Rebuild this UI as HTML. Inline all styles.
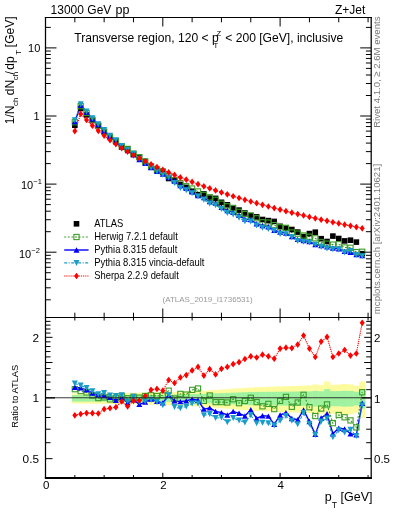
<!DOCTYPE html>
<html><head><meta charset="utf-8"><style>
svg{will-change:transform}
html,body{margin:0;padding:0;background:#fff;width:393px;height:512px;overflow:hidden;position:relative}
</style></head><body>
<svg width="393" height="512" viewBox="0 0 393 512" style="position:absolute;left:0;top:0">
<rect x="0" y="0" width="393" height="512" fill="#fff"/>
<defs><clipPath id="cm"><rect x="45.5" y="17.5" width="325.7" height="300.0"/></clipPath><clipPath id="cr"><rect x="45.5" y="317.5" width="325.7" height="160.5"/></clipPath></defs>
<g fill="#fdfb9e" clip-path="url(#cr)"><rect x="71.89" y="393.40" width="6.16" height="10.12"/><rect x="77.76" y="393.34" width="6.17" height="10.25"/><rect x="83.62" y="393.28" width="6.16" height="10.38"/><rect x="89.49" y="393.22" width="6.17" height="10.52"/><rect x="95.35" y="393.16" width="6.17" height="10.65"/><rect x="101.22" y="393.10" width="6.17" height="10.78"/><rect x="107.08" y="393.04" width="6.16" height="10.91"/><rect x="112.95" y="392.98" width="6.17" height="11.04"/><rect x="118.81" y="392.92" width="6.17" height="11.18"/><rect x="124.68" y="392.86" width="6.16" height="11.31"/><rect x="130.54" y="392.80" width="6.17" height="11.44"/><rect x="136.41" y="392.67" width="6.17" height="11.73"/><rect x="142.27" y="392.53" width="6.17" height="12.03"/><rect x="148.14" y="392.40" width="6.17" height="12.32"/><rect x="154.00" y="392.27" width="6.17" height="12.61"/><rect x="159.87" y="392.13" width="6.16" height="12.91"/><rect x="165.73" y="392.00" width="6.16" height="13.20"/><rect x="171.60" y="391.78" width="6.16" height="13.68"/><rect x="177.46" y="391.57" width="6.16" height="14.15"/><rect x="183.33" y="391.35" width="6.16" height="14.63"/><rect x="189.19" y="391.13" width="6.16" height="15.11"/><rect x="195.06" y="390.92" width="6.16" height="15.58"/><rect x="200.92" y="390.70" width="6.16" height="16.06"/><rect x="206.79" y="390.30" width="6.16" height="16.94"/><rect x="212.65" y="389.90" width="6.16" height="17.82"/><rect x="218.52" y="389.50" width="6.16" height="18.70"/><rect x="224.38" y="389.10" width="6.16" height="19.58"/><rect x="230.25" y="388.70" width="6.16" height="20.46"/><rect x="236.11" y="388.32" width="6.16" height="21.29"/><rect x="241.98" y="387.95" width="6.16" height="22.11"/><rect x="247.84" y="387.57" width="6.16" height="22.94"/><rect x="253.71" y="387.20" width="6.16" height="23.76"/><rect x="259.57" y="387.00" width="6.17" height="24.20"/><rect x="265.44" y="386.80" width="6.17" height="24.64"/><rect x="271.30" y="386.60" width="6.17" height="25.08"/><rect x="277.17" y="386.40" width="6.16" height="25.52"/><rect x="283.03" y="386.20" width="6.16" height="25.96"/><rect x="288.90" y="386.00" width="6.16" height="26.40"/><rect x="294.76" y="385.80" width="6.17" height="26.84"/><rect x="300.63" y="385.60" width="6.16" height="27.28"/><rect x="306.49" y="385.40" width="6.16" height="27.72"/><rect x="312.36" y="384.44" width="6.17" height="29.83"/><rect x="318.22" y="385.08" width="6.16" height="28.42"/><rect x="324.09" y="381.42" width="6.17" height="36.48"/><rect x="329.95" y="384.76" width="6.16" height="29.13"/><rect x="335.82" y="384.60" width="6.17" height="29.48"/><rect x="341.68" y="384.05" width="6.16" height="30.69"/><rect x="347.55" y="384.30" width="6.16" height="30.14"/><rect x="353.41" y="385.65" width="6.17" height="27.17"/><rect x="359.28" y="381.50" width="6.16" height="36.30"/></g>
<g fill="#a0f2a0" clip-path="url(#cr)"><rect x="71.89" y="395.00" width="6.16" height="6.60"/><rect x="77.76" y="395.00" width="6.17" height="6.60"/><rect x="83.62" y="395.00" width="6.16" height="6.60"/><rect x="89.49" y="395.00" width="6.17" height="6.60"/><rect x="95.35" y="395.00" width="6.17" height="6.60"/><rect x="101.22" y="395.00" width="6.17" height="6.60"/><rect x="107.08" y="395.00" width="6.16" height="6.60"/><rect x="112.95" y="395.00" width="6.17" height="6.60"/><rect x="118.81" y="395.00" width="6.17" height="6.60"/><rect x="124.68" y="395.00" width="6.16" height="6.60"/><rect x="130.54" y="395.00" width="6.17" height="6.60"/><rect x="136.41" y="394.97" width="6.17" height="6.67"/><rect x="142.27" y="394.93" width="6.17" height="6.75"/><rect x="148.14" y="394.90" width="6.17" height="6.82"/><rect x="154.00" y="394.87" width="6.17" height="6.89"/><rect x="159.87" y="394.83" width="6.16" height="6.97"/><rect x="165.73" y="394.80" width="6.16" height="7.04"/><rect x="171.60" y="394.63" width="6.16" height="7.41"/><rect x="177.46" y="394.47" width="6.16" height="7.77"/><rect x="183.33" y="394.30" width="6.16" height="8.14"/><rect x="189.19" y="394.13" width="6.16" height="8.51"/><rect x="195.06" y="393.97" width="6.16" height="8.87"/><rect x="200.92" y="393.80" width="6.16" height="9.24"/><rect x="206.79" y="393.57" width="6.16" height="9.74"/><rect x="212.65" y="393.35" width="6.16" height="10.23"/><rect x="218.52" y="393.12" width="6.16" height="10.73"/><rect x="224.38" y="392.90" width="6.16" height="11.22"/><rect x="230.25" y="392.68" width="6.16" height="11.72"/><rect x="236.11" y="392.45" width="6.16" height="12.21"/><rect x="241.98" y="392.23" width="6.16" height="12.71"/><rect x="247.84" y="392.00" width="6.16" height="13.20"/><rect x="253.71" y="391.94" width="6.16" height="13.33"/><rect x="259.57" y="391.88" width="6.17" height="13.46"/><rect x="265.44" y="391.82" width="6.17" height="13.60"/><rect x="271.30" y="391.76" width="6.17" height="13.73"/><rect x="277.17" y="391.70" width="6.16" height="13.86"/><rect x="283.03" y="391.64" width="6.16" height="13.99"/><rect x="288.90" y="391.58" width="6.16" height="14.12"/><rect x="294.76" y="391.52" width="6.17" height="14.26"/><rect x="300.63" y="391.46" width="6.16" height="14.39"/><rect x="306.49" y="391.40" width="6.16" height="14.52"/><rect x="312.36" y="390.86" width="6.17" height="15.71"/><rect x="318.22" y="391.28" width="6.16" height="14.78"/><rect x="324.09" y="389.12" width="6.17" height="19.54"/><rect x="329.95" y="391.16" width="6.16" height="15.05"/><rect x="335.82" y="391.10" width="6.17" height="15.18"/><rect x="341.68" y="390.76" width="6.16" height="15.93"/><rect x="347.55" y="390.90" width="6.16" height="15.62"/><rect x="353.41" y="391.70" width="6.17" height="13.86"/><rect x="359.28" y="389.20" width="6.16" height="19.36"/></g>
<g clip-path="url(#cm)">
<polyline points="74.83,122.23 80.69,106.17 86.56,113.01 92.42,119.66 98.28,125.63 104.15,131.60 110.02,137.07 115.88,141.00 121.75,146.22 127.61,148.90 133.47,153.69 139.34,157.16 145.21,161.32 151.07,166.19 156.94,169.52 162.80,171.39 168.67,176.03 174.53,180.17 180.39,183.01 186.26,186.25 192.12,188.56 197.99,191.49 203.86,194.88 209.72,197.26 215.59,199.79 221.45,203.69 227.31,206.32 233.18,208.11 239.05,211.86 244.91,213.98 250.78,215.53 256.64,218.29 262.50,222.31 268.37,222.59 274.24,225.15 280.10,227.28 285.96,227.83 291.83,232.47 297.70,233.62 303.56,235.52 309.43,236.71 315.29,238.32 321.16,242.28 327.02,243.66 332.88,244.62 338.75,244.25 344.62,247.42 350.48,247.77 356.35,252.04 362.21,251.74" fill="none" stroke="#3c9c28" stroke-width="1.1" stroke-dasharray="2,1.6"/>
<polyline points="74.83,121.58 80.69,105.09 86.56,112.13 92.42,118.81 98.28,124.55 104.15,130.96 110.02,136.40 115.88,141.74 121.75,146.76 127.61,150.46 133.47,154.71 139.34,159.46 145.21,163.39 151.07,167.47 156.94,171.35 162.80,173.96 168.67,177.59 174.53,180.98 180.39,185.62 186.26,188.38 192.12,191.71 197.99,195.44 203.86,197.65 209.72,201.45 215.59,202.93 221.45,207.23 227.31,210.55 233.18,212.23 239.05,215.27 244.91,219.08 250.78,219.59 256.64,223.83 262.50,225.48 268.37,226.72 274.24,230.29 280.10,232.05 285.96,233.13 291.83,236.43 297.70,239.40 303.56,240.66 309.43,241.54 315.29,244.50 321.16,245.46 327.02,246.84 332.88,248.17 338.75,248.74 344.62,251.38 350.48,252.27 356.35,254.57 362.21,255.46" fill="none" stroke="#0000ff" stroke-width="1.4"/>
<polyline points="74.83,120.30 80.69,104.24 86.56,111.49 92.42,118.24 98.28,124.35 104.15,130.11 110.02,135.76 115.88,140.32 121.75,145.99 127.61,149.95 133.47,153.69 139.34,158.69 145.21,163.15 151.07,167.71 156.94,171.59 162.80,174.73 168.67,177.59 174.53,183.08 180.39,187.88 186.26,190.24 192.12,193.19 197.99,196.59 203.86,199.75 209.72,203.54 215.59,205.19 221.45,208.92 227.31,213.01 233.18,214.49 239.05,217.67 244.91,221.28 250.78,221.45 256.64,225.42 262.50,227.85 268.37,229.12 274.24,230.69 280.10,234.01 285.96,234.32 291.83,237.21 297.70,240.99 303.56,241.67 309.43,242.39 315.29,244.67 321.16,246.64 327.02,248.43 332.88,249.35 338.75,249.38 344.62,252.56 350.48,250.91 356.35,254.94 362.21,256.27" fill="none" stroke="#1a9cc8" stroke-width="1.1" stroke-dasharray="3,1.5,1,1.5"/>
<polyline points="74.83,131.05 80.69,113.91 86.56,120.00 92.42,125.64 98.28,130.84 104.15,135.59 110.02,140.05 115.88,144.11 121.75,148.05 127.61,151.61 133.47,155.05 139.34,158.18 145.21,161.32 151.07,164.33 156.94,167.12 162.80,169.83 168.67,172.42 174.53,174.93 180.39,177.44 186.26,179.66 192.12,181.97 197.99,184.19 203.86,186.33 209.72,188.37 215.59,190.42 221.45,192.43 227.31,194.29 233.18,196.24 239.05,198.00 244.91,199.82 250.78,201.51 256.64,203.21 262.50,204.87 268.37,206.51 274.24,208.12 280.10,209.60 285.96,211.20 291.83,212.64 297.70,214.05 303.56,215.48 309.43,216.90 315.29,218.34 321.16,219.64 327.02,220.85 332.88,222.24 338.75,223.46 344.62,224.68 350.48,225.87 356.35,227.06 362.21,228.29" fill="none" stroke="#ff0000" stroke-width="1.1" stroke-dasharray="1.2,0.9"/>
<rect x="72.03" y="122.40" width="5.60" height="5.60" fill="#000"/>
<rect x="77.89" y="105.70" width="5.60" height="5.60" fill="#000"/>
<rect x="83.76" y="112.10" width="5.60" height="5.60" fill="#000"/>
<rect x="89.62" y="117.70" width="5.60" height="5.60" fill="#000"/>
<rect x="95.48" y="122.80" width="5.60" height="5.60" fill="#000"/>
<rect x="101.35" y="129.00" width="5.60" height="5.60" fill="#000"/>
<rect x="107.22" y="133.80" width="5.60" height="5.60" fill="#000"/>
<rect x="113.08" y="138.20" width="5.60" height="5.60" fill="#000"/>
<rect x="118.95" y="144.10" width="5.60" height="5.60" fill="#000"/>
<rect x="124.81" y="146.00" width="5.60" height="5.60" fill="#000"/>
<rect x="130.67" y="151.30" width="5.60" height="5.60" fill="#000"/>
<rect x="136.54" y="154.50" width="5.60" height="5.60" fill="#000"/>
<rect x="142.41" y="159.20" width="5.60" height="5.60" fill="#000"/>
<rect x="148.27" y="164.30" width="5.60" height="5.60" fill="#000"/>
<rect x="154.13" y="167.40" width="5.60" height="5.60" fill="#000"/>
<rect x="160.00" y="169.50" width="5.60" height="5.60" fill="#000"/>
<rect x="165.87" y="175.70" width="5.60" height="5.60" fill="#000"/>
<rect x="171.73" y="177.20" width="5.60" height="5.60" fill="#000"/>
<rect x="177.59" y="181.60" width="5.60" height="5.60" fill="#000"/>
<rect x="183.46" y="184.60" width="5.60" height="5.60" fill="#000"/>
<rect x="189.32" y="188.50" width="5.60" height="5.60" fill="#000"/>
<rect x="195.19" y="191.90" width="5.60" height="5.60" fill="#000"/>
<rect x="201.06" y="191.10" width="5.60" height="5.60" fill="#000"/>
<rect x="206.92" y="195.30" width="5.60" height="5.60" fill="#000"/>
<rect x="212.78" y="195.60" width="5.60" height="5.60" fill="#000"/>
<rect x="218.65" y="199.50" width="5.60" height="5.60" fill="#000"/>
<rect x="224.51" y="202.00" width="5.60" height="5.60" fill="#000"/>
<rect x="230.38" y="204.90" width="5.60" height="5.60" fill="#000"/>
<rect x="236.25" y="207.30" width="5.60" height="5.60" fill="#000"/>
<rect x="242.11" y="210.20" width="5.60" height="5.60" fill="#000"/>
<rect x="247.97" y="212.80" width="5.60" height="5.60" fill="#000"/>
<rect x="253.84" y="214.10" width="5.60" height="5.60" fill="#000"/>
<rect x="259.70" y="216.70" width="5.60" height="5.60" fill="#000"/>
<rect x="265.57" y="217.80" width="5.60" height="5.60" fill="#000"/>
<rect x="271.44" y="218.60" width="5.60" height="5.60" fill="#000"/>
<rect x="277.30" y="223.50" width="5.60" height="5.60" fill="#000"/>
<rect x="283.16" y="225.40" width="5.60" height="5.60" fill="#000"/>
<rect x="289.03" y="226.70" width="5.60" height="5.60" fill="#000"/>
<rect x="294.90" y="229.30" width="5.60" height="5.60" fill="#000"/>
<rect x="300.76" y="233.80" width="5.60" height="5.60" fill="#000"/>
<rect x="306.62" y="230.80" width="5.60" height="5.60" fill="#000"/>
<rect x="312.49" y="229.40" width="5.60" height="5.60" fill="#000"/>
<rect x="318.36" y="235.90" width="5.60" height="5.60" fill="#000"/>
<rect x="324.22" y="238.70" width="5.60" height="5.60" fill="#000"/>
<rect x="330.08" y="233.30" width="5.60" height="5.60" fill="#000"/>
<rect x="335.95" y="235.70" width="5.60" height="5.60" fill="#000"/>
<rect x="341.81" y="238.10" width="5.60" height="5.60" fill="#000"/>
<rect x="347.68" y="237.40" width="5.60" height="5.60" fill="#000"/>
<rect x="353.55" y="239.30" width="5.60" height="5.60" fill="#000"/>
<rect x="359.41" y="250.90" width="5.60" height="5.60" fill="#000"/>
<rect x="72.23" y="119.63" width="5.20" height="5.20" fill="none" stroke="#3c9c28" stroke-width="1.1"/>
<rect x="78.09" y="103.57" width="5.20" height="5.20" fill="none" stroke="#3c9c28" stroke-width="1.1"/>
<rect x="83.96" y="110.41" width="5.20" height="5.20" fill="none" stroke="#3c9c28" stroke-width="1.1"/>
<rect x="89.82" y="117.06" width="5.20" height="5.20" fill="none" stroke="#3c9c28" stroke-width="1.1"/>
<rect x="95.69" y="123.03" width="5.20" height="5.20" fill="none" stroke="#3c9c28" stroke-width="1.1"/>
<rect x="101.55" y="129.00" width="5.20" height="5.20" fill="none" stroke="#3c9c28" stroke-width="1.1"/>
<rect x="107.42" y="134.47" width="5.20" height="5.20" fill="none" stroke="#3c9c28" stroke-width="1.1"/>
<rect x="113.28" y="138.40" width="5.20" height="5.20" fill="none" stroke="#3c9c28" stroke-width="1.1"/>
<rect x="119.15" y="143.62" width="5.20" height="5.20" fill="none" stroke="#3c9c28" stroke-width="1.1"/>
<rect x="125.01" y="146.30" width="5.20" height="5.20" fill="none" stroke="#3c9c28" stroke-width="1.1"/>
<rect x="130.88" y="151.09" width="5.20" height="5.20" fill="none" stroke="#3c9c28" stroke-width="1.1"/>
<rect x="136.74" y="154.56" width="5.20" height="5.20" fill="none" stroke="#3c9c28" stroke-width="1.1"/>
<rect x="142.61" y="158.72" width="5.20" height="5.20" fill="none" stroke="#3c9c28" stroke-width="1.1"/>
<rect x="148.47" y="163.59" width="5.20" height="5.20" fill="none" stroke="#3c9c28" stroke-width="1.1"/>
<rect x="154.34" y="166.92" width="5.20" height="5.20" fill="none" stroke="#3c9c28" stroke-width="1.1"/>
<rect x="160.20" y="168.79" width="5.20" height="5.20" fill="none" stroke="#3c9c28" stroke-width="1.1"/>
<rect x="166.07" y="173.43" width="5.20" height="5.20" fill="none" stroke="#3c9c28" stroke-width="1.1"/>
<rect x="171.93" y="177.57" width="5.20" height="5.20" fill="none" stroke="#3c9c28" stroke-width="1.1"/>
<rect x="177.79" y="180.41" width="5.20" height="5.20" fill="none" stroke="#3c9c28" stroke-width="1.1"/>
<rect x="183.66" y="183.65" width="5.20" height="5.20" fill="none" stroke="#3c9c28" stroke-width="1.1"/>
<rect x="189.53" y="185.96" width="5.20" height="5.20" fill="none" stroke="#3c9c28" stroke-width="1.1"/>
<rect x="195.39" y="188.89" width="5.20" height="5.20" fill="none" stroke="#3c9c28" stroke-width="1.1"/>
<rect x="201.26" y="192.28" width="5.20" height="5.20" fill="none" stroke="#3c9c28" stroke-width="1.1"/>
<rect x="207.12" y="194.66" width="5.20" height="5.20" fill="none" stroke="#3c9c28" stroke-width="1.1"/>
<rect x="212.99" y="197.19" width="5.20" height="5.20" fill="none" stroke="#3c9c28" stroke-width="1.1"/>
<rect x="218.85" y="201.09" width="5.20" height="5.20" fill="none" stroke="#3c9c28" stroke-width="1.1"/>
<rect x="224.72" y="203.72" width="5.20" height="5.20" fill="none" stroke="#3c9c28" stroke-width="1.1"/>
<rect x="230.58" y="205.51" width="5.20" height="5.20" fill="none" stroke="#3c9c28" stroke-width="1.1"/>
<rect x="236.45" y="209.26" width="5.20" height="5.20" fill="none" stroke="#3c9c28" stroke-width="1.1"/>
<rect x="242.31" y="211.38" width="5.20" height="5.20" fill="none" stroke="#3c9c28" stroke-width="1.1"/>
<rect x="248.18" y="212.93" width="5.20" height="5.20" fill="none" stroke="#3c9c28" stroke-width="1.1"/>
<rect x="254.04" y="215.69" width="5.20" height="5.20" fill="none" stroke="#3c9c28" stroke-width="1.1"/>
<rect x="259.90" y="219.71" width="5.20" height="5.20" fill="none" stroke="#3c9c28" stroke-width="1.1"/>
<rect x="265.77" y="219.99" width="5.20" height="5.20" fill="none" stroke="#3c9c28" stroke-width="1.1"/>
<rect x="271.63" y="222.55" width="5.20" height="5.20" fill="none" stroke="#3c9c28" stroke-width="1.1"/>
<rect x="277.50" y="224.68" width="5.20" height="5.20" fill="none" stroke="#3c9c28" stroke-width="1.1"/>
<rect x="283.36" y="225.23" width="5.20" height="5.20" fill="none" stroke="#3c9c28" stroke-width="1.1"/>
<rect x="289.23" y="229.87" width="5.20" height="5.20" fill="none" stroke="#3c9c28" stroke-width="1.1"/>
<rect x="295.10" y="231.02" width="5.20" height="5.20" fill="none" stroke="#3c9c28" stroke-width="1.1"/>
<rect x="300.96" y="232.92" width="5.20" height="5.20" fill="none" stroke="#3c9c28" stroke-width="1.1"/>
<rect x="306.82" y="234.11" width="5.20" height="5.20" fill="none" stroke="#3c9c28" stroke-width="1.1"/>
<rect x="312.69" y="235.72" width="5.20" height="5.20" fill="none" stroke="#3c9c28" stroke-width="1.1"/>
<rect x="318.56" y="239.68" width="5.20" height="5.20" fill="none" stroke="#3c9c28" stroke-width="1.1"/>
<rect x="324.42" y="241.06" width="5.20" height="5.20" fill="none" stroke="#3c9c28" stroke-width="1.1"/>
<rect x="330.28" y="242.02" width="5.20" height="5.20" fill="none" stroke="#3c9c28" stroke-width="1.1"/>
<rect x="336.15" y="241.65" width="5.20" height="5.20" fill="none" stroke="#3c9c28" stroke-width="1.1"/>
<rect x="342.01" y="244.82" width="5.20" height="5.20" fill="none" stroke="#3c9c28" stroke-width="1.1"/>
<rect x="347.88" y="245.17" width="5.20" height="5.20" fill="none" stroke="#3c9c28" stroke-width="1.1"/>
<rect x="353.75" y="249.44" width="5.20" height="5.20" fill="none" stroke="#3c9c28" stroke-width="1.1"/>
<rect x="359.61" y="249.14" width="5.20" height="5.20" fill="none" stroke="#3c9c28" stroke-width="1.1"/>
<path d="M71.83,124.28L77.83,124.28L74.83,118.88Z" fill="#0000ff"/>
<path d="M77.69,107.79L83.69,107.79L80.69,102.39Z" fill="#0000ff"/>
<path d="M83.56,114.83L89.56,114.83L86.56,109.43Z" fill="#0000ff"/>
<path d="M89.42,121.51L95.42,121.51L92.42,116.11Z" fill="#0000ff"/>
<path d="M95.28,127.25L101.28,127.25L98.28,121.85Z" fill="#0000ff"/>
<path d="M101.15,133.66L107.15,133.66L104.15,128.26Z" fill="#0000ff"/>
<path d="M107.02,139.10L113.02,139.10L110.02,133.70Z" fill="#0000ff"/>
<path d="M112.88,144.44L118.88,144.44L115.88,139.04Z" fill="#0000ff"/>
<path d="M118.75,149.46L124.75,149.46L121.75,144.06Z" fill="#0000ff"/>
<path d="M124.61,153.16L130.61,153.16L127.61,147.76Z" fill="#0000ff"/>
<path d="M130.47,157.41L136.47,157.41L133.47,152.01Z" fill="#0000ff"/>
<path d="M136.34,162.16L142.34,162.16L139.34,156.76Z" fill="#0000ff"/>
<path d="M142.21,166.09L148.21,166.09L145.21,160.69Z" fill="#0000ff"/>
<path d="M148.07,170.17L154.07,170.17L151.07,164.77Z" fill="#0000ff"/>
<path d="M153.94,174.05L159.94,174.05L156.94,168.65Z" fill="#0000ff"/>
<path d="M159.80,176.66L165.80,176.66L162.80,171.26Z" fill="#0000ff"/>
<path d="M165.67,180.29L171.67,180.29L168.67,174.89Z" fill="#0000ff"/>
<path d="M171.53,183.68L177.53,183.68L174.53,178.28Z" fill="#0000ff"/>
<path d="M177.39,188.32L183.39,188.32L180.39,182.92Z" fill="#0000ff"/>
<path d="M183.26,191.08L189.26,191.08L186.26,185.68Z" fill="#0000ff"/>
<path d="M189.12,194.41L195.12,194.41L192.12,189.01Z" fill="#0000ff"/>
<path d="M194.99,198.14L200.99,198.14L197.99,192.74Z" fill="#0000ff"/>
<path d="M200.86,200.35L206.86,200.35L203.86,194.95Z" fill="#0000ff"/>
<path d="M206.72,204.15L212.72,204.15L209.72,198.75Z" fill="#0000ff"/>
<path d="M212.59,205.63L218.59,205.63L215.59,200.23Z" fill="#0000ff"/>
<path d="M218.45,209.93L224.45,209.93L221.45,204.53Z" fill="#0000ff"/>
<path d="M224.31,213.25L230.31,213.25L227.31,207.85Z" fill="#0000ff"/>
<path d="M230.18,214.93L236.18,214.93L233.18,209.53Z" fill="#0000ff"/>
<path d="M236.05,217.97L242.05,217.97L239.05,212.57Z" fill="#0000ff"/>
<path d="M241.91,221.78L247.91,221.78L244.91,216.38Z" fill="#0000ff"/>
<path d="M247.78,222.29L253.78,222.29L250.78,216.89Z" fill="#0000ff"/>
<path d="M253.64,226.53L259.64,226.53L256.64,221.13Z" fill="#0000ff"/>
<path d="M259.50,228.18L265.50,228.18L262.50,222.78Z" fill="#0000ff"/>
<path d="M265.37,229.42L271.37,229.42L268.37,224.02Z" fill="#0000ff"/>
<path d="M271.24,232.99L277.24,232.99L274.24,227.59Z" fill="#0000ff"/>
<path d="M277.10,234.75L283.10,234.75L280.10,229.35Z" fill="#0000ff"/>
<path d="M282.96,235.83L288.96,235.83L285.96,230.43Z" fill="#0000ff"/>
<path d="M288.83,239.13L294.83,239.13L291.83,233.73Z" fill="#0000ff"/>
<path d="M294.70,242.10L300.70,242.10L297.70,236.70Z" fill="#0000ff"/>
<path d="M300.56,243.36L306.56,243.36L303.56,237.96Z" fill="#0000ff"/>
<path d="M306.43,244.24L312.43,244.24L309.43,238.84Z" fill="#0000ff"/>
<path d="M312.29,247.20L318.29,247.20L315.29,241.80Z" fill="#0000ff"/>
<path d="M318.16,248.16L324.16,248.16L321.16,242.76Z" fill="#0000ff"/>
<path d="M324.02,249.54L330.02,249.54L327.02,244.14Z" fill="#0000ff"/>
<path d="M329.88,250.87L335.88,250.87L332.88,245.47Z" fill="#0000ff"/>
<path d="M335.75,251.44L341.75,251.44L338.75,246.04Z" fill="#0000ff"/>
<path d="M341.62,254.08L347.62,254.08L344.62,248.68Z" fill="#0000ff"/>
<path d="M347.48,254.97L353.48,254.97L350.48,249.57Z" fill="#0000ff"/>
<path d="M353.35,257.27L359.35,257.27L356.35,251.87Z" fill="#0000ff"/>
<path d="M359.21,258.16L365.21,258.16L362.21,252.76Z" fill="#0000ff"/>
<path d="M71.83,117.30L77.83,117.30L74.83,123.30Z" fill="#1a9cc8"/>
<path d="M77.69,101.24L83.69,101.24L80.69,107.24Z" fill="#1a9cc8"/>
<path d="M83.56,108.49L89.56,108.49L86.56,114.49Z" fill="#1a9cc8"/>
<path d="M89.42,115.24L95.42,115.24L92.42,121.24Z" fill="#1a9cc8"/>
<path d="M95.28,121.35L101.28,121.35L98.28,127.35Z" fill="#1a9cc8"/>
<path d="M101.15,127.11L107.15,127.11L104.15,133.11Z" fill="#1a9cc8"/>
<path d="M107.02,132.76L113.02,132.76L110.02,138.76Z" fill="#1a9cc8"/>
<path d="M112.88,137.32L118.88,137.32L115.88,143.32Z" fill="#1a9cc8"/>
<path d="M118.75,142.99L124.75,142.99L121.75,148.99Z" fill="#1a9cc8"/>
<path d="M124.61,146.95L130.61,146.95L127.61,152.95Z" fill="#1a9cc8"/>
<path d="M130.47,150.69L136.47,150.69L133.47,156.69Z" fill="#1a9cc8"/>
<path d="M136.34,155.69L142.34,155.69L139.34,161.69Z" fill="#1a9cc8"/>
<path d="M142.21,160.15L148.21,160.15L145.21,166.15Z" fill="#1a9cc8"/>
<path d="M148.07,164.71L154.07,164.71L151.07,170.71Z" fill="#1a9cc8"/>
<path d="M153.94,168.59L159.94,168.59L156.94,174.59Z" fill="#1a9cc8"/>
<path d="M159.80,171.73L165.80,171.73L162.80,177.73Z" fill="#1a9cc8"/>
<path d="M165.67,174.59L171.67,174.59L168.67,180.59Z" fill="#1a9cc8"/>
<path d="M171.53,180.08L177.53,180.08L174.53,186.08Z" fill="#1a9cc8"/>
<path d="M177.39,184.88L183.39,184.88L180.39,190.88Z" fill="#1a9cc8"/>
<path d="M183.26,187.24L189.26,187.24L186.26,193.24Z" fill="#1a9cc8"/>
<path d="M189.12,190.19L195.12,190.19L192.12,196.19Z" fill="#1a9cc8"/>
<path d="M194.99,193.59L200.99,193.59L197.99,199.59Z" fill="#1a9cc8"/>
<path d="M200.86,196.75L206.86,196.75L203.86,202.75Z" fill="#1a9cc8"/>
<path d="M206.72,200.54L212.72,200.54L209.72,206.54Z" fill="#1a9cc8"/>
<path d="M212.59,202.19L218.59,202.19L215.59,208.19Z" fill="#1a9cc8"/>
<path d="M218.45,205.92L224.45,205.92L221.45,211.92Z" fill="#1a9cc8"/>
<path d="M224.31,210.01L230.31,210.01L227.31,216.01Z" fill="#1a9cc8"/>
<path d="M230.18,211.49L236.18,211.49L233.18,217.49Z" fill="#1a9cc8"/>
<path d="M236.05,214.67L242.05,214.67L239.05,220.67Z" fill="#1a9cc8"/>
<path d="M241.91,218.28L247.91,218.28L244.91,224.28Z" fill="#1a9cc8"/>
<path d="M247.78,218.45L253.78,218.45L250.78,224.45Z" fill="#1a9cc8"/>
<path d="M253.64,222.42L259.64,222.42L256.64,228.42Z" fill="#1a9cc8"/>
<path d="M259.50,224.85L265.50,224.85L262.50,230.85Z" fill="#1a9cc8"/>
<path d="M265.37,226.12L271.37,226.12L268.37,232.12Z" fill="#1a9cc8"/>
<path d="M271.24,227.69L277.24,227.69L274.24,233.69Z" fill="#1a9cc8"/>
<path d="M277.10,231.01L283.10,231.01L280.10,237.01Z" fill="#1a9cc8"/>
<path d="M282.96,231.32L288.96,231.32L285.96,237.32Z" fill="#1a9cc8"/>
<path d="M288.83,234.21L294.83,234.21L291.83,240.21Z" fill="#1a9cc8"/>
<path d="M294.70,237.99L300.70,237.99L297.70,243.99Z" fill="#1a9cc8"/>
<path d="M300.56,238.67L306.56,238.67L303.56,244.67Z" fill="#1a9cc8"/>
<path d="M306.43,239.39L312.43,239.39L309.43,245.39Z" fill="#1a9cc8"/>
<path d="M312.29,241.67L318.29,241.67L315.29,247.67Z" fill="#1a9cc8"/>
<path d="M318.16,243.64L324.16,243.64L321.16,249.64Z" fill="#1a9cc8"/>
<path d="M324.02,245.43L330.02,245.43L327.02,251.43Z" fill="#1a9cc8"/>
<path d="M329.88,246.35L335.88,246.35L332.88,252.35Z" fill="#1a9cc8"/>
<path d="M335.75,246.38L341.75,246.38L338.75,252.38Z" fill="#1a9cc8"/>
<path d="M341.62,249.56L347.62,249.56L344.62,255.56Z" fill="#1a9cc8"/>
<path d="M347.48,247.91L353.48,247.91L350.48,253.91Z" fill="#1a9cc8"/>
<path d="M353.35,251.94L359.35,251.94L356.35,257.94Z" fill="#1a9cc8"/>
<path d="M359.21,253.27L365.21,253.27L362.21,259.27Z" fill="#1a9cc8"/>
<path d="M74.83,127.69L77.34,131.05L74.83,134.41L72.31,131.05Z" fill="#ff0000"/>
<path d="M80.69,110.55L83.21,113.91L80.69,117.27L78.17,113.91Z" fill="#ff0000"/>
<path d="M86.56,116.64L89.08,120.00L86.56,123.36L84.04,120.00Z" fill="#ff0000"/>
<path d="M92.42,122.28L94.94,125.64L92.42,129.00L89.90,125.64Z" fill="#ff0000"/>
<path d="M98.28,127.48L100.80,130.84L98.28,134.20L95.77,130.84Z" fill="#ff0000"/>
<path d="M104.15,132.23L106.67,135.59L104.15,138.95L101.63,135.59Z" fill="#ff0000"/>
<path d="M110.02,136.69L112.53,140.05L110.02,143.41L107.50,140.05Z" fill="#ff0000"/>
<path d="M115.88,140.75L118.40,144.11L115.88,147.47L113.36,144.11Z" fill="#ff0000"/>
<path d="M121.75,144.69L124.27,148.05L121.75,151.41L119.23,148.05Z" fill="#ff0000"/>
<path d="M127.61,148.25L130.13,151.61L127.61,154.97L125.09,151.61Z" fill="#ff0000"/>
<path d="M133.47,151.69L136.00,155.05L133.47,158.41L130.95,155.05Z" fill="#ff0000"/>
<path d="M139.34,154.82L141.86,158.18L139.34,161.54L136.82,158.18Z" fill="#ff0000"/>
<path d="M145.21,157.96L147.73,161.32L145.21,164.68L142.69,161.32Z" fill="#ff0000"/>
<path d="M151.07,160.97L153.59,164.33L151.07,167.69L148.55,164.33Z" fill="#ff0000"/>
<path d="M156.94,163.76L159.46,167.12L156.94,170.48L154.41,167.12Z" fill="#ff0000"/>
<path d="M162.80,166.47L165.32,169.83L162.80,173.19L160.28,169.83Z" fill="#ff0000"/>
<path d="M168.67,169.06L171.19,172.42L168.67,175.78L166.15,172.42Z" fill="#ff0000"/>
<path d="M174.53,171.57L177.05,174.93L174.53,178.29L172.01,174.93Z" fill="#ff0000"/>
<path d="M180.39,174.08L182.91,177.44L180.39,180.80L177.87,177.44Z" fill="#ff0000"/>
<path d="M186.26,176.30L188.78,179.66L186.26,183.02L183.74,179.66Z" fill="#ff0000"/>
<path d="M192.12,178.61L194.65,181.97L192.12,185.33L189.60,181.97Z" fill="#ff0000"/>
<path d="M197.99,180.83L200.51,184.19L197.99,187.55L195.47,184.19Z" fill="#ff0000"/>
<path d="M203.86,182.97L206.38,186.33L203.86,189.69L201.34,186.33Z" fill="#ff0000"/>
<path d="M209.72,185.01L212.24,188.37L209.72,191.73L207.20,188.37Z" fill="#ff0000"/>
<path d="M215.59,187.06L218.11,190.42L215.59,193.78L213.06,190.42Z" fill="#ff0000"/>
<path d="M221.45,189.07L223.97,192.43L221.45,195.79L218.93,192.43Z" fill="#ff0000"/>
<path d="M227.31,190.93L229.84,194.29L227.31,197.65L224.79,194.29Z" fill="#ff0000"/>
<path d="M233.18,192.88L235.70,196.24L233.18,199.60L230.66,196.24Z" fill="#ff0000"/>
<path d="M239.05,194.64L241.57,198.00L239.05,201.36L236.53,198.00Z" fill="#ff0000"/>
<path d="M244.91,196.46L247.43,199.82L244.91,203.18L242.39,199.82Z" fill="#ff0000"/>
<path d="M250.78,198.15L253.30,201.51L250.78,204.87L248.25,201.51Z" fill="#ff0000"/>
<path d="M256.64,199.85L259.16,203.21L256.64,206.57L254.12,203.21Z" fill="#ff0000"/>
<path d="M262.50,201.51L265.02,204.87L262.50,208.23L259.99,204.87Z" fill="#ff0000"/>
<path d="M268.37,203.15L270.89,206.51L268.37,209.87L265.85,206.51Z" fill="#ff0000"/>
<path d="M274.24,204.76L276.75,208.12L274.24,211.48L271.72,208.12Z" fill="#ff0000"/>
<path d="M280.10,206.24L282.62,209.60L280.10,212.96L277.58,209.60Z" fill="#ff0000"/>
<path d="M285.96,207.84L288.48,211.20L285.96,214.56L283.44,211.20Z" fill="#ff0000"/>
<path d="M291.83,209.28L294.35,212.64L291.83,216.00L289.31,212.64Z" fill="#ff0000"/>
<path d="M297.70,210.69L300.22,214.05L297.70,217.41L295.18,214.05Z" fill="#ff0000"/>
<path d="M303.56,212.12L306.08,215.48L303.56,218.84L301.04,215.48Z" fill="#ff0000"/>
<path d="M309.43,213.54L311.94,216.90L309.43,220.26L306.91,216.90Z" fill="#ff0000"/>
<path d="M315.29,214.98L317.81,218.34L315.29,221.70L312.77,218.34Z" fill="#ff0000"/>
<path d="M321.16,216.28L323.68,219.64L321.16,223.00L318.64,219.64Z" fill="#ff0000"/>
<path d="M327.02,217.49L329.54,220.85L327.02,224.21L324.50,220.85Z" fill="#ff0000"/>
<path d="M332.88,218.88L335.40,222.24L332.88,225.60L330.37,222.24Z" fill="#ff0000"/>
<path d="M338.75,220.10L341.27,223.46L338.75,226.82L336.23,223.46Z" fill="#ff0000"/>
<path d="M344.62,221.32L347.13,224.68L344.62,228.04L342.10,224.68Z" fill="#ff0000"/>
<path d="M350.48,222.51L353.00,225.87L350.48,229.23L347.96,225.87Z" fill="#ff0000"/>
<path d="M356.35,223.70L358.87,227.06L356.35,230.42L353.83,227.06Z" fill="#ff0000"/>
<path d="M362.21,224.93L364.73,228.29L362.21,231.65L359.69,228.29Z" fill="#ff0000"/>
</g>
<g clip-path="url(#cr)">
<polyline points="74.83,389.20 80.69,391.10 86.56,392.40 92.42,395.50 98.28,398.10 104.15,397.40 110.02,399.40 115.88,398.00 121.75,396.00 127.61,398.30 133.47,396.80 139.34,397.60 145.21,396.00 151.07,395.30 156.94,396.00 162.80,395.30 168.67,390.70 174.53,398.50 180.39,393.90 186.26,394.60 192.12,389.90 197.99,388.50 203.86,400.90 209.72,395.50 215.59,402.10 221.45,402.10 227.31,402.50 233.18,399.20 239.05,403.20 244.91,400.90 250.78,397.80 256.64,402.10 262.50,406.30 268.37,403.90 274.24,409.10 280.10,400.90 285.96,396.90 291.83,406.80 297.70,402.50 303.56,394.80 309.43,407.20 315.29,416.10 321.16,408.60 327.02,404.40 332.88,423.20 338.75,415.00 344.62,417.30 350.48,420.40 356.35,427.40 362.21,392.20" fill="none" stroke="#3c9c28" stroke-width="1.1" stroke-dasharray="2,1.6"/>
<polyline points="74.83,387.30 80.69,387.90 86.56,389.80 92.42,393.00 98.28,394.90 104.15,395.50 110.02,397.40 115.88,400.20 121.75,397.60 127.61,402.90 133.47,399.80 139.34,404.40 145.21,402.10 151.07,399.10 156.94,401.40 162.80,402.90 168.67,395.30 174.53,400.90 180.39,401.60 186.26,400.90 192.12,399.20 197.99,400.20 203.86,409.10 209.72,407.90 215.59,411.40 221.45,412.60 227.31,415.00 233.18,411.40 239.05,413.30 244.91,416.00 250.78,409.80 256.64,418.50 262.50,415.70 268.37,416.10 274.24,424.30 280.10,415.00 285.96,412.60 291.83,418.50 297.70,419.60 303.56,410.00 309.43,421.50 315.29,434.40 321.16,418.00 327.02,413.80 332.88,433.70 338.75,428.30 344.62,429.00 350.48,433.70 356.35,434.90 362.21,403.20" fill="none" stroke="#0000ff" stroke-width="1.4"/>
<polyline points="74.83,383.50 80.69,385.40 86.56,387.90 92.42,391.30 98.28,394.30 104.15,393.00 110.02,395.50 115.88,396.00 121.75,395.30 127.61,401.40 133.47,396.80 139.34,402.10 145.21,401.40 151.07,399.80 156.94,402.10 162.80,405.20 168.67,395.30 174.53,407.10 180.39,408.30 186.26,406.40 192.12,403.60 197.99,403.60 203.86,415.30 209.72,414.10 215.59,418.10 221.45,417.60 227.31,422.30 233.18,418.10 239.05,420.40 244.91,422.50 250.78,415.30 256.64,423.20 262.50,422.70 268.37,423.20 274.24,425.50 280.10,420.80 285.96,416.10 291.83,420.80 297.70,424.30 303.56,413.00 309.43,424.00 315.29,434.90 321.16,421.50 327.02,418.50 332.88,437.20 338.75,430.20 344.62,432.50 350.48,429.70 356.35,436.00 362.21,405.60" fill="none" stroke="#1a9cc8" stroke-width="1.1" stroke-dasharray="3,1.5,1,1.5"/>
<polyline points="74.83,415.30 80.69,414.00 86.56,413.10 92.42,413.20 98.28,413.50 104.15,409.20 110.02,408.20 115.88,407.20 121.75,401.40 127.61,406.30 133.47,400.80 139.34,400.60 145.21,396.00 151.07,389.80 156.94,388.90 162.80,390.70 168.67,380.00 174.53,383.00 180.39,377.40 186.26,375.10 192.12,370.40 197.99,366.90 203.86,375.60 209.72,369.20 215.59,374.40 221.45,368.80 227.31,366.90 233.18,364.10 239.05,362.20 244.91,359.00 250.78,356.30 256.64,357.50 262.50,354.70 268.37,356.30 274.24,358.70 280.10,348.60 285.96,347.70 291.83,348.10 297.70,344.60 303.56,335.50 309.43,348.60 315.29,357.00 321.16,341.60 327.02,336.90 332.88,357.00 338.75,353.50 344.62,350.00 350.48,355.60 356.35,353.50 362.21,322.80" fill="none" stroke="#ff0000" stroke-width="1.1" stroke-dasharray="1.2,0.9"/>
<rect x="72.23" y="386.60" width="5.20" height="5.20" fill="none" stroke="#3c9c28" stroke-width="1.1"/>
<rect x="78.09" y="388.50" width="5.20" height="5.20" fill="none" stroke="#3c9c28" stroke-width="1.1"/>
<rect x="83.96" y="389.80" width="5.20" height="5.20" fill="none" stroke="#3c9c28" stroke-width="1.1"/>
<rect x="89.82" y="392.90" width="5.20" height="5.20" fill="none" stroke="#3c9c28" stroke-width="1.1"/>
<rect x="95.69" y="395.50" width="5.20" height="5.20" fill="none" stroke="#3c9c28" stroke-width="1.1"/>
<rect x="101.55" y="394.80" width="5.20" height="5.20" fill="none" stroke="#3c9c28" stroke-width="1.1"/>
<rect x="107.42" y="396.80" width="5.20" height="5.20" fill="none" stroke="#3c9c28" stroke-width="1.1"/>
<rect x="113.28" y="395.40" width="5.20" height="5.20" fill="none" stroke="#3c9c28" stroke-width="1.1"/>
<rect x="119.15" y="393.40" width="5.20" height="5.20" fill="none" stroke="#3c9c28" stroke-width="1.1"/>
<rect x="125.01" y="395.70" width="5.20" height="5.20" fill="none" stroke="#3c9c28" stroke-width="1.1"/>
<rect x="130.88" y="394.20" width="5.20" height="5.20" fill="none" stroke="#3c9c28" stroke-width="1.1"/>
<rect x="136.74" y="395.00" width="5.20" height="5.20" fill="none" stroke="#3c9c28" stroke-width="1.1"/>
<rect x="142.61" y="393.40" width="5.20" height="5.20" fill="none" stroke="#3c9c28" stroke-width="1.1"/>
<rect x="148.47" y="392.70" width="5.20" height="5.20" fill="none" stroke="#3c9c28" stroke-width="1.1"/>
<rect x="154.34" y="393.40" width="5.20" height="5.20" fill="none" stroke="#3c9c28" stroke-width="1.1"/>
<rect x="160.20" y="392.70" width="5.20" height="5.20" fill="none" stroke="#3c9c28" stroke-width="1.1"/>
<rect x="166.07" y="388.10" width="5.20" height="5.20" fill="none" stroke="#3c9c28" stroke-width="1.1"/>
<rect x="171.93" y="395.90" width="5.20" height="5.20" fill="none" stroke="#3c9c28" stroke-width="1.1"/>
<rect x="177.79" y="391.30" width="5.20" height="5.20" fill="none" stroke="#3c9c28" stroke-width="1.1"/>
<rect x="183.66" y="392.00" width="5.20" height="5.20" fill="none" stroke="#3c9c28" stroke-width="1.1"/>
<rect x="189.53" y="387.30" width="5.20" height="5.20" fill="none" stroke="#3c9c28" stroke-width="1.1"/>
<rect x="195.39" y="385.90" width="5.20" height="5.20" fill="none" stroke="#3c9c28" stroke-width="1.1"/>
<rect x="201.26" y="398.30" width="5.20" height="5.20" fill="none" stroke="#3c9c28" stroke-width="1.1"/>
<rect x="207.12" y="392.90" width="5.20" height="5.20" fill="none" stroke="#3c9c28" stroke-width="1.1"/>
<rect x="212.99" y="399.50" width="5.20" height="5.20" fill="none" stroke="#3c9c28" stroke-width="1.1"/>
<rect x="218.85" y="399.50" width="5.20" height="5.20" fill="none" stroke="#3c9c28" stroke-width="1.1"/>
<rect x="224.72" y="399.90" width="5.20" height="5.20" fill="none" stroke="#3c9c28" stroke-width="1.1"/>
<rect x="230.58" y="396.60" width="5.20" height="5.20" fill="none" stroke="#3c9c28" stroke-width="1.1"/>
<rect x="236.45" y="400.60" width="5.20" height="5.20" fill="none" stroke="#3c9c28" stroke-width="1.1"/>
<rect x="242.31" y="398.30" width="5.20" height="5.20" fill="none" stroke="#3c9c28" stroke-width="1.1"/>
<rect x="248.18" y="395.20" width="5.20" height="5.20" fill="none" stroke="#3c9c28" stroke-width="1.1"/>
<rect x="254.04" y="399.50" width="5.20" height="5.20" fill="none" stroke="#3c9c28" stroke-width="1.1"/>
<rect x="259.90" y="403.70" width="5.20" height="5.20" fill="none" stroke="#3c9c28" stroke-width="1.1"/>
<rect x="265.77" y="401.30" width="5.20" height="5.20" fill="none" stroke="#3c9c28" stroke-width="1.1"/>
<rect x="271.63" y="406.50" width="5.20" height="5.20" fill="none" stroke="#3c9c28" stroke-width="1.1"/>
<rect x="277.50" y="398.30" width="5.20" height="5.20" fill="none" stroke="#3c9c28" stroke-width="1.1"/>
<rect x="283.36" y="394.30" width="5.20" height="5.20" fill="none" stroke="#3c9c28" stroke-width="1.1"/>
<rect x="289.23" y="404.20" width="5.20" height="5.20" fill="none" stroke="#3c9c28" stroke-width="1.1"/>
<rect x="295.10" y="399.90" width="5.20" height="5.20" fill="none" stroke="#3c9c28" stroke-width="1.1"/>
<rect x="300.96" y="392.20" width="5.20" height="5.20" fill="none" stroke="#3c9c28" stroke-width="1.1"/>
<rect x="306.82" y="404.60" width="5.20" height="5.20" fill="none" stroke="#3c9c28" stroke-width="1.1"/>
<rect x="312.69" y="413.50" width="5.20" height="5.20" fill="none" stroke="#3c9c28" stroke-width="1.1"/>
<rect x="318.56" y="406.00" width="5.20" height="5.20" fill="none" stroke="#3c9c28" stroke-width="1.1"/>
<rect x="324.42" y="401.80" width="5.20" height="5.20" fill="none" stroke="#3c9c28" stroke-width="1.1"/>
<rect x="330.28" y="420.60" width="5.20" height="5.20" fill="none" stroke="#3c9c28" stroke-width="1.1"/>
<rect x="336.15" y="412.40" width="5.20" height="5.20" fill="none" stroke="#3c9c28" stroke-width="1.1"/>
<rect x="342.01" y="414.70" width="5.20" height="5.20" fill="none" stroke="#3c9c28" stroke-width="1.1"/>
<rect x="347.88" y="417.80" width="5.20" height="5.20" fill="none" stroke="#3c9c28" stroke-width="1.1"/>
<rect x="353.75" y="424.80" width="5.20" height="5.20" fill="none" stroke="#3c9c28" stroke-width="1.1"/>
<rect x="359.61" y="389.60" width="5.20" height="5.20" fill="none" stroke="#3c9c28" stroke-width="1.1"/>
<path d="M71.83,390.00L77.83,390.00L74.83,384.60Z" fill="#0000ff"/>
<path d="M77.69,390.60L83.69,390.60L80.69,385.20Z" fill="#0000ff"/>
<path d="M83.56,392.50L89.56,392.50L86.56,387.10Z" fill="#0000ff"/>
<path d="M89.42,395.70L95.42,395.70L92.42,390.30Z" fill="#0000ff"/>
<path d="M95.28,397.60L101.28,397.60L98.28,392.20Z" fill="#0000ff"/>
<path d="M101.15,398.20L107.15,398.20L104.15,392.80Z" fill="#0000ff"/>
<path d="M107.02,400.10L113.02,400.10L110.02,394.70Z" fill="#0000ff"/>
<path d="M112.88,402.90L118.88,402.90L115.88,397.50Z" fill="#0000ff"/>
<path d="M118.75,400.30L124.75,400.30L121.75,394.90Z" fill="#0000ff"/>
<path d="M124.61,405.60L130.61,405.60L127.61,400.20Z" fill="#0000ff"/>
<path d="M130.47,402.50L136.47,402.50L133.47,397.10Z" fill="#0000ff"/>
<path d="M136.34,407.10L142.34,407.10L139.34,401.70Z" fill="#0000ff"/>
<path d="M142.21,404.80L148.21,404.80L145.21,399.40Z" fill="#0000ff"/>
<path d="M148.07,401.80L154.07,401.80L151.07,396.40Z" fill="#0000ff"/>
<path d="M153.94,404.10L159.94,404.10L156.94,398.70Z" fill="#0000ff"/>
<path d="M159.80,405.60L165.80,405.60L162.80,400.20Z" fill="#0000ff"/>
<path d="M165.67,398.00L171.67,398.00L168.67,392.60Z" fill="#0000ff"/>
<path d="M171.53,403.60L177.53,403.60L174.53,398.20Z" fill="#0000ff"/>
<path d="M177.39,404.30L183.39,404.30L180.39,398.90Z" fill="#0000ff"/>
<path d="M183.26,403.60L189.26,403.60L186.26,398.20Z" fill="#0000ff"/>
<path d="M189.12,401.90L195.12,401.90L192.12,396.50Z" fill="#0000ff"/>
<path d="M194.99,402.90L200.99,402.90L197.99,397.50Z" fill="#0000ff"/>
<path d="M200.86,411.80L206.86,411.80L203.86,406.40Z" fill="#0000ff"/>
<path d="M206.72,410.60L212.72,410.60L209.72,405.20Z" fill="#0000ff"/>
<path d="M212.59,414.10L218.59,414.10L215.59,408.70Z" fill="#0000ff"/>
<path d="M218.45,415.30L224.45,415.30L221.45,409.90Z" fill="#0000ff"/>
<path d="M224.31,417.70L230.31,417.70L227.31,412.30Z" fill="#0000ff"/>
<path d="M230.18,414.10L236.18,414.10L233.18,408.70Z" fill="#0000ff"/>
<path d="M236.05,416.00L242.05,416.00L239.05,410.60Z" fill="#0000ff"/>
<path d="M241.91,418.70L247.91,418.70L244.91,413.30Z" fill="#0000ff"/>
<path d="M247.78,412.50L253.78,412.50L250.78,407.10Z" fill="#0000ff"/>
<path d="M253.64,421.20L259.64,421.20L256.64,415.80Z" fill="#0000ff"/>
<path d="M259.50,418.40L265.50,418.40L262.50,413.00Z" fill="#0000ff"/>
<path d="M265.37,418.80L271.37,418.80L268.37,413.40Z" fill="#0000ff"/>
<path d="M271.24,427.00L277.24,427.00L274.24,421.60Z" fill="#0000ff"/>
<path d="M277.10,417.70L283.10,417.70L280.10,412.30Z" fill="#0000ff"/>
<path d="M282.96,415.30L288.96,415.30L285.96,409.90Z" fill="#0000ff"/>
<path d="M288.83,421.20L294.83,421.20L291.83,415.80Z" fill="#0000ff"/>
<path d="M294.70,422.30L300.70,422.30L297.70,416.90Z" fill="#0000ff"/>
<path d="M300.56,412.70L306.56,412.70L303.56,407.30Z" fill="#0000ff"/>
<path d="M306.43,424.20L312.43,424.20L309.43,418.80Z" fill="#0000ff"/>
<path d="M312.29,437.10L318.29,437.10L315.29,431.70Z" fill="#0000ff"/>
<path d="M318.16,420.70L324.16,420.70L321.16,415.30Z" fill="#0000ff"/>
<path d="M324.02,416.50L330.02,416.50L327.02,411.10Z" fill="#0000ff"/>
<path d="M329.88,436.40L335.88,436.40L332.88,431.00Z" fill="#0000ff"/>
<path d="M335.75,431.00L341.75,431.00L338.75,425.60Z" fill="#0000ff"/>
<path d="M341.62,431.70L347.62,431.70L344.62,426.30Z" fill="#0000ff"/>
<path d="M347.48,436.40L353.48,436.40L350.48,431.00Z" fill="#0000ff"/>
<path d="M353.35,437.60L359.35,437.60L356.35,432.20Z" fill="#0000ff"/>
<path d="M359.21,405.90L365.21,405.90L362.21,400.50Z" fill="#0000ff"/>
<path d="M71.83,380.50L77.83,380.50L74.83,386.50Z" fill="#1a9cc8"/>
<path d="M77.69,382.40L83.69,382.40L80.69,388.40Z" fill="#1a9cc8"/>
<path d="M83.56,384.90L89.56,384.90L86.56,390.90Z" fill="#1a9cc8"/>
<path d="M89.42,388.30L95.42,388.30L92.42,394.30Z" fill="#1a9cc8"/>
<path d="M95.28,391.30L101.28,391.30L98.28,397.30Z" fill="#1a9cc8"/>
<path d="M101.15,390.00L107.15,390.00L104.15,396.00Z" fill="#1a9cc8"/>
<path d="M107.02,392.50L113.02,392.50L110.02,398.50Z" fill="#1a9cc8"/>
<path d="M112.88,393.00L118.88,393.00L115.88,399.00Z" fill="#1a9cc8"/>
<path d="M118.75,392.30L124.75,392.30L121.75,398.30Z" fill="#1a9cc8"/>
<path d="M124.61,398.40L130.61,398.40L127.61,404.40Z" fill="#1a9cc8"/>
<path d="M130.47,393.80L136.47,393.80L133.47,399.80Z" fill="#1a9cc8"/>
<path d="M136.34,399.10L142.34,399.10L139.34,405.10Z" fill="#1a9cc8"/>
<path d="M142.21,398.40L148.21,398.40L145.21,404.40Z" fill="#1a9cc8"/>
<path d="M148.07,396.80L154.07,396.80L151.07,402.80Z" fill="#1a9cc8"/>
<path d="M153.94,399.10L159.94,399.10L156.94,405.10Z" fill="#1a9cc8"/>
<path d="M159.80,402.20L165.80,402.20L162.80,408.20Z" fill="#1a9cc8"/>
<path d="M165.67,392.30L171.67,392.30L168.67,398.30Z" fill="#1a9cc8"/>
<path d="M171.53,404.10L177.53,404.10L174.53,410.10Z" fill="#1a9cc8"/>
<path d="M177.39,405.30L183.39,405.30L180.39,411.30Z" fill="#1a9cc8"/>
<path d="M183.26,403.40L189.26,403.40L186.26,409.40Z" fill="#1a9cc8"/>
<path d="M189.12,400.60L195.12,400.60L192.12,406.60Z" fill="#1a9cc8"/>
<path d="M194.99,400.60L200.99,400.60L197.99,406.60Z" fill="#1a9cc8"/>
<path d="M200.86,412.30L206.86,412.30L203.86,418.30Z" fill="#1a9cc8"/>
<path d="M206.72,411.10L212.72,411.10L209.72,417.10Z" fill="#1a9cc8"/>
<path d="M212.59,415.10L218.59,415.10L215.59,421.10Z" fill="#1a9cc8"/>
<path d="M218.45,414.60L224.45,414.60L221.45,420.60Z" fill="#1a9cc8"/>
<path d="M224.31,419.30L230.31,419.30L227.31,425.30Z" fill="#1a9cc8"/>
<path d="M230.18,415.10L236.18,415.10L233.18,421.10Z" fill="#1a9cc8"/>
<path d="M236.05,417.40L242.05,417.40L239.05,423.40Z" fill="#1a9cc8"/>
<path d="M241.91,419.50L247.91,419.50L244.91,425.50Z" fill="#1a9cc8"/>
<path d="M247.78,412.30L253.78,412.30L250.78,418.30Z" fill="#1a9cc8"/>
<path d="M253.64,420.20L259.64,420.20L256.64,426.20Z" fill="#1a9cc8"/>
<path d="M259.50,419.70L265.50,419.70L262.50,425.70Z" fill="#1a9cc8"/>
<path d="M265.37,420.20L271.37,420.20L268.37,426.20Z" fill="#1a9cc8"/>
<path d="M271.24,422.50L277.24,422.50L274.24,428.50Z" fill="#1a9cc8"/>
<path d="M277.10,417.80L283.10,417.80L280.10,423.80Z" fill="#1a9cc8"/>
<path d="M282.96,413.10L288.96,413.10L285.96,419.10Z" fill="#1a9cc8"/>
<path d="M288.83,417.80L294.83,417.80L291.83,423.80Z" fill="#1a9cc8"/>
<path d="M294.70,421.30L300.70,421.30L297.70,427.30Z" fill="#1a9cc8"/>
<path d="M300.56,410.00L306.56,410.00L303.56,416.00Z" fill="#1a9cc8"/>
<path d="M306.43,421.00L312.43,421.00L309.43,427.00Z" fill="#1a9cc8"/>
<path d="M312.29,431.90L318.29,431.90L315.29,437.90Z" fill="#1a9cc8"/>
<path d="M318.16,418.50L324.16,418.50L321.16,424.50Z" fill="#1a9cc8"/>
<path d="M324.02,415.50L330.02,415.50L327.02,421.50Z" fill="#1a9cc8"/>
<path d="M329.88,434.20L335.88,434.20L332.88,440.20Z" fill="#1a9cc8"/>
<path d="M335.75,427.20L341.75,427.20L338.75,433.20Z" fill="#1a9cc8"/>
<path d="M341.62,429.50L347.62,429.50L344.62,435.50Z" fill="#1a9cc8"/>
<path d="M347.48,426.70L353.48,426.70L350.48,432.70Z" fill="#1a9cc8"/>
<path d="M353.35,433.00L359.35,433.00L356.35,439.00Z" fill="#1a9cc8"/>
<path d="M359.21,402.60L365.21,402.60L362.21,408.60Z" fill="#1a9cc8"/>
<path d="M74.83,411.94L77.34,415.30L74.83,418.66L72.31,415.30Z" fill="#ff0000"/>
<path d="M80.69,410.64L83.21,414.00L80.69,417.36L78.17,414.00Z" fill="#ff0000"/>
<path d="M86.56,409.74L89.08,413.10L86.56,416.46L84.04,413.10Z" fill="#ff0000"/>
<path d="M92.42,409.84L94.94,413.20L92.42,416.56L89.90,413.20Z" fill="#ff0000"/>
<path d="M98.28,410.14L100.80,413.50L98.28,416.86L95.77,413.50Z" fill="#ff0000"/>
<path d="M104.15,405.84L106.67,409.20L104.15,412.56L101.63,409.20Z" fill="#ff0000"/>
<path d="M110.02,404.84L112.53,408.20L110.02,411.56L107.50,408.20Z" fill="#ff0000"/>
<path d="M115.88,403.84L118.40,407.20L115.88,410.56L113.36,407.20Z" fill="#ff0000"/>
<path d="M121.75,398.04L124.27,401.40L121.75,404.76L119.23,401.40Z" fill="#ff0000"/>
<path d="M127.61,402.94L130.13,406.30L127.61,409.66L125.09,406.30Z" fill="#ff0000"/>
<path d="M133.47,397.44L136.00,400.80L133.47,404.16L130.95,400.80Z" fill="#ff0000"/>
<path d="M139.34,397.24L141.86,400.60L139.34,403.96L136.82,400.60Z" fill="#ff0000"/>
<path d="M145.21,392.64L147.73,396.00L145.21,399.36L142.69,396.00Z" fill="#ff0000"/>
<path d="M151.07,386.44L153.59,389.80L151.07,393.16L148.55,389.80Z" fill="#ff0000"/>
<path d="M156.94,385.54L159.46,388.90L156.94,392.26L154.41,388.90Z" fill="#ff0000"/>
<path d="M162.80,387.34L165.32,390.70L162.80,394.06L160.28,390.70Z" fill="#ff0000"/>
<path d="M168.67,376.64L171.19,380.00L168.67,383.36L166.15,380.00Z" fill="#ff0000"/>
<path d="M174.53,379.64L177.05,383.00L174.53,386.36L172.01,383.00Z" fill="#ff0000"/>
<path d="M180.39,374.04L182.91,377.40L180.39,380.76L177.87,377.40Z" fill="#ff0000"/>
<path d="M186.26,371.74L188.78,375.10L186.26,378.46L183.74,375.10Z" fill="#ff0000"/>
<path d="M192.12,367.04L194.65,370.40L192.12,373.76L189.60,370.40Z" fill="#ff0000"/>
<path d="M197.99,363.54L200.51,366.90L197.99,370.26L195.47,366.90Z" fill="#ff0000"/>
<path d="M203.86,372.24L206.38,375.60L203.86,378.96L201.34,375.60Z" fill="#ff0000"/>
<path d="M209.72,365.84L212.24,369.20L209.72,372.56L207.20,369.20Z" fill="#ff0000"/>
<path d="M215.59,371.04L218.11,374.40L215.59,377.76L213.06,374.40Z" fill="#ff0000"/>
<path d="M221.45,365.44L223.97,368.80L221.45,372.16L218.93,368.80Z" fill="#ff0000"/>
<path d="M227.31,363.54L229.84,366.90L227.31,370.26L224.79,366.90Z" fill="#ff0000"/>
<path d="M233.18,360.74L235.70,364.10L233.18,367.46L230.66,364.10Z" fill="#ff0000"/>
<path d="M239.05,358.84L241.57,362.20L239.05,365.56L236.53,362.20Z" fill="#ff0000"/>
<path d="M244.91,355.64L247.43,359.00L244.91,362.36L242.39,359.00Z" fill="#ff0000"/>
<path d="M250.78,352.94L253.30,356.30L250.78,359.66L248.25,356.30Z" fill="#ff0000"/>
<path d="M256.64,354.14L259.16,357.50L256.64,360.86L254.12,357.50Z" fill="#ff0000"/>
<path d="M262.50,351.34L265.02,354.70L262.50,358.06L259.99,354.70Z" fill="#ff0000"/>
<path d="M268.37,352.94L270.89,356.30L268.37,359.66L265.85,356.30Z" fill="#ff0000"/>
<path d="M274.24,355.34L276.75,358.70L274.24,362.06L271.72,358.70Z" fill="#ff0000"/>
<path d="M280.10,345.24L282.62,348.60L280.10,351.96L277.58,348.60Z" fill="#ff0000"/>
<path d="M285.96,344.34L288.48,347.70L285.96,351.06L283.44,347.70Z" fill="#ff0000"/>
<path d="M291.83,344.74L294.35,348.10L291.83,351.46L289.31,348.10Z" fill="#ff0000"/>
<path d="M297.70,341.24L300.22,344.60L297.70,347.96L295.18,344.60Z" fill="#ff0000"/>
<path d="M303.56,332.14L306.08,335.50L303.56,338.86L301.04,335.50Z" fill="#ff0000"/>
<path d="M309.43,345.24L311.94,348.60L309.43,351.96L306.91,348.60Z" fill="#ff0000"/>
<path d="M315.29,353.64L317.81,357.00L315.29,360.36L312.77,357.00Z" fill="#ff0000"/>
<path d="M321.16,338.24L323.68,341.60L321.16,344.96L318.64,341.60Z" fill="#ff0000"/>
<path d="M327.02,333.54L329.54,336.90L327.02,340.26L324.50,336.90Z" fill="#ff0000"/>
<path d="M332.88,353.64L335.40,357.00L332.88,360.36L330.37,357.00Z" fill="#ff0000"/>
<path d="M338.75,350.14L341.27,353.50L338.75,356.86L336.23,353.50Z" fill="#ff0000"/>
<path d="M344.62,346.64L347.13,350.00L344.62,353.36L342.10,350.00Z" fill="#ff0000"/>
<path d="M350.48,352.24L353.00,355.60L350.48,358.96L347.96,355.60Z" fill="#ff0000"/>
<path d="M356.35,350.14L358.87,353.50L356.35,356.86L353.83,353.50Z" fill="#ff0000"/>
<path d="M362.21,319.44L364.73,322.80L362.21,326.16L359.69,322.80Z" fill="#ff0000"/>
</g>
<line x1="45.5" y1="397.75" x2="371.2" y2="397.75" stroke="#222" stroke-width="0.9"/>
<path d="M45.5,16.9L45.5,479.0M371.2,16.9L371.2,479.0" stroke="#000" stroke-width="1.25" fill="none"/>
<path d="M44.9,17.5L371.9,17.5M44.9,317.5L371.9,317.5" stroke="#000" stroke-width="1.2" fill="none"/>
<path d="M44.9,478.0L371.9,478.0" stroke="#000" stroke-width="1.9" fill="none"/>
<path d="M74.83,17.50L74.83,22.30M74.83,317.50L74.83,312.70M74.83,317.50L74.83,320.50M74.83,478.00L74.83,475.00M104.15,17.50L104.15,22.30M104.15,317.50L104.15,312.70M104.15,317.50L104.15,320.50M104.15,478.00L104.15,475.00M133.47,17.50L133.47,22.30M133.47,317.50L133.47,312.70M133.47,317.50L133.47,320.50M133.47,478.00L133.47,475.00M162.80,17.50L162.80,26.50M162.80,317.50L162.80,308.50M162.80,317.50L162.80,322.70M162.80,478.00L162.80,472.80M192.12,17.50L192.12,22.30M192.12,317.50L192.12,312.70M192.12,317.50L192.12,320.50M192.12,478.00L192.12,475.00M221.45,17.50L221.45,22.30M221.45,317.50L221.45,312.70M221.45,317.50L221.45,320.50M221.45,478.00L221.45,475.00M250.78,17.50L250.78,22.30M250.78,317.50L250.78,312.70M250.78,317.50L250.78,320.50M250.78,478.00L250.78,475.00M280.10,17.50L280.10,26.50M280.10,317.50L280.10,308.50M280.10,317.50L280.10,322.70M280.10,478.00L280.10,472.80M309.43,17.50L309.43,22.30M309.43,317.50L309.43,312.70M309.43,317.50L309.43,320.50M309.43,478.00L309.43,475.00M338.75,17.50L338.75,22.30M338.75,317.50L338.75,312.70M338.75,317.50L338.75,320.50M338.75,478.00L338.75,475.00M368.07,17.50L368.07,22.30M368.07,317.50L368.07,312.70M368.07,317.50L368.07,320.50M368.07,478.00L368.07,475.00M45.50,299.80L50.80,299.80M371.20,299.80L365.90,299.80M45.50,287.81L50.80,287.81M371.20,287.81L365.90,287.81M45.50,279.30L50.80,279.30M371.20,279.30L365.90,279.30M45.50,272.70L50.80,272.70M371.20,272.70L365.90,272.70M45.50,267.31L50.80,267.31M371.20,267.31L365.90,267.31M45.50,262.75L50.80,262.75M371.20,262.75L365.90,262.75M45.50,258.80L50.80,258.80M371.20,258.80L365.90,258.80M45.50,255.32L50.80,255.32M371.20,255.32L365.90,255.32M45.50,252.20L56.50,252.20M371.20,252.20L360.20,252.20M45.50,231.70L50.80,231.70M371.20,231.70L365.90,231.70M45.50,219.71L50.80,219.71M371.20,219.71L365.90,219.71M45.50,211.20L50.80,211.20M371.20,211.20L365.90,211.20M45.50,204.60L50.80,204.60M371.20,204.60L365.90,204.60M45.50,199.21L50.80,199.21M371.20,199.21L365.90,199.21M45.50,194.65L50.80,194.65M371.20,194.65L365.90,194.65M45.50,190.70L50.80,190.70M371.20,190.70L365.90,190.70M45.50,187.22L50.80,187.22M371.20,187.22L365.90,187.22M45.50,184.10L56.50,184.10M371.20,184.10L360.20,184.10M45.50,163.60L50.80,163.60M371.20,163.60L365.90,163.60M45.50,151.61L50.80,151.61M371.20,151.61L365.90,151.61M45.50,143.10L50.80,143.10M371.20,143.10L365.90,143.10M45.50,136.50L50.80,136.50M371.20,136.50L365.90,136.50M45.50,131.11L50.80,131.11M371.20,131.11L365.90,131.11M45.50,126.55L50.80,126.55M371.20,126.55L365.90,126.55M45.50,122.60L50.80,122.60M371.20,122.60L365.90,122.60M45.50,119.12L50.80,119.12M371.20,119.12L365.90,119.12M45.50,116.00L56.50,116.00M371.20,116.00L360.20,116.00M45.50,95.50L50.80,95.50M371.20,95.50L365.90,95.50M45.50,83.51L50.80,83.51M371.20,83.51L365.90,83.51M45.50,75.00L50.80,75.00M371.20,75.00L365.90,75.00M45.50,68.40L50.80,68.40M371.20,68.40L365.90,68.40M45.50,63.01L50.80,63.01M371.20,63.01L365.90,63.01M45.50,58.45L50.80,58.45M371.20,58.45L365.90,58.45M45.50,54.50L50.80,54.50M371.20,54.50L365.90,54.50M45.50,51.02L50.80,51.02M371.20,51.02L365.90,51.02M45.50,47.90L56.50,47.90M371.20,47.90L360.20,47.90M45.50,27.40L50.80,27.40M371.20,27.40L365.90,27.40M45.50,458.66L52.50,458.66M371.20,458.66L364.20,458.66M45.50,442.70L50.50,442.70M371.20,442.70L366.20,442.70M45.50,429.21L50.50,429.21M371.20,429.21L366.20,429.21M45.50,417.53L50.50,417.53M371.20,417.53L366.20,417.53M45.50,407.22L50.50,407.22M371.20,407.22L366.20,407.22M45.50,389.66L50.50,389.66M371.20,389.66L366.20,389.66M45.50,382.04L50.50,382.04M371.20,382.04L366.20,382.04M45.50,375.04L50.50,375.04M371.20,375.04L366.20,375.04M45.50,368.56L50.50,368.56M371.20,368.56L366.20,368.56M45.50,362.52L52.50,362.52M371.20,362.52L364.20,362.52M45.50,356.87L50.50,356.87M371.20,356.87L366.20,356.87M45.50,351.56L50.50,351.56M371.20,351.56L366.20,351.56M45.50,346.56L50.50,346.56M371.20,346.56L366.20,346.56M45.50,341.83L50.50,341.83M371.20,341.83L366.20,341.83M45.50,337.34L52.50,337.34M371.20,337.34L364.20,337.34M45.50,333.07L50.50,333.07M371.20,333.07L366.20,333.07M45.50,329.00L50.50,329.00M371.20,329.00L366.20,329.00M45.50,325.11L50.50,325.11M371.20,325.11L366.20,325.11M45.50,321.39L50.50,321.39M371.20,321.39L366.20,321.39" stroke="#000" stroke-width="1" fill="none"/>
<path d="M45.5,397.9L55.0,397.9M371.2,397.9L361.7,397.9" stroke="#000" stroke-width="1.4" fill="none"/>
<text x="50.60" y="13.70" font-size="12" text-anchor="start" fill="#000" font-family="'Liberation Sans', sans-serif" >13000 GeV</text>
<text x="115.50" y="13.70" font-size="12.5" text-anchor="start" fill="#000" font-family="'Liberation Sans', sans-serif" >pp</text>
<text x="365.30" y="13.80" font-size="12" text-anchor="end" fill="#000" font-family="'Liberation Sans', sans-serif" >Z+Jet</text>
<text x="74.20" y="42.20" font-size="12.1" text-anchor="start" fill="#000" font-family="'Liberation Sans', sans-serif" >Transverse region, 120 &lt; p</text>
<text x="216.60" y="35.90" font-size="7.6" text-anchor="start" fill="#000" font-family="'Liberation Sans', sans-serif" >Z</text>
<text x="213.60" y="48.10" font-size="7.6" text-anchor="start" fill="#000" font-family="'Liberation Sans', sans-serif" >T</text>
<text x="225.30" y="42.20" font-size="12.1" text-anchor="start" fill="#000" font-family="'Liberation Sans', sans-serif" >&lt; 200 [GeV], inclusive</text>
<text x="40.30" y="51.90" font-size="11" text-anchor="end" fill="#000" font-family="'Liberation Sans', sans-serif" >10</text>
<text x="39.60" y="120.00" font-size="11" text-anchor="end" fill="#000" font-family="'Liberation Sans', sans-serif" >1</text>
<text x="21.0" y="188.80" font-size="11" font-family="'Liberation Sans', sans-serif">10<tspan font-size="7.5" dy="-4.6">&#8722;1</tspan></text>
<text x="19.0" y="257.80" font-size="11" font-family="'Liberation Sans', sans-serif">10<tspan font-size="7.5" dy="-4.6">&#8722;2</tspan></text>
<text x="39.00" y="341.64" font-size="11.8" text-anchor="end" fill="#000" font-family="'Liberation Sans', sans-serif" >2</text>
<text x="374.00" y="341.84" font-size="11.5" text-anchor="start" fill="#000" font-family="'Liberation Sans', sans-serif" >2</text>
<text x="39.00" y="402.30" font-size="11.8" text-anchor="end" fill="#000" font-family="'Liberation Sans', sans-serif" >1</text>
<text x="374.00" y="402.50" font-size="11.5" text-anchor="start" fill="#000" font-family="'Liberation Sans', sans-serif" >1</text>
<text x="39.00" y="462.96" font-size="11.8" text-anchor="end" fill="#000" font-family="'Liberation Sans', sans-serif" >0.5</text>
<text x="374.00" y="463.16" font-size="11.5" text-anchor="start" fill="#000" font-family="'Liberation Sans', sans-serif" >0.5</text>
<text x="46.10" y="489.00" font-size="11.5" text-anchor="middle" fill="#000" font-family="'Liberation Sans', sans-serif" >0</text>
<text x="163.40" y="489.00" font-size="11.5" text-anchor="middle" fill="#000" font-family="'Liberation Sans', sans-serif" >2</text>
<text x="280.70" y="489.00" font-size="11.5" text-anchor="middle" fill="#000" font-family="'Liberation Sans', sans-serif" >4</text>
<text x="324.80" y="501.10" font-size="12.5" text-anchor="start" fill="#000" font-family="'Liberation Sans', sans-serif" >p</text>
<text x="331.70" y="507.80" font-size="8.6" text-anchor="start" fill="#000" font-family="'Liberation Sans', sans-serif" >T</text>
<text x="340.60" y="501.10" font-size="12.5" text-anchor="start" fill="#000" font-family="'Liberation Sans', sans-serif" >[GeV]</text>
<g transform="translate(14.0,0) rotate(-90)"><text x="-124.20" y="0.00" font-size="12" font-family="'Liberation Sans', sans-serif">1/N</text><text x="-106.00" y="3.80" font-size="8" font-family="'Liberation Sans', sans-serif">ch</text><text x="-95.20" y="0.00" font-size="12" font-family="'Liberation Sans', sans-serif">dN</text><text x="-80.30" y="3.80" font-size="8" font-family="'Liberation Sans', sans-serif">ch</text><text x="-74.60" y="0.00" font-size="12" font-family="'Liberation Sans', sans-serif">/</text><text x="-69.80" y="0.00" font-size="12" font-family="'Liberation Sans', sans-serif">dp</text><text x="-54.70" y="6.70" font-size="8" font-family="'Liberation Sans', sans-serif">T</text><text x="-47.20" y="0.00" font-size="12" font-family="'Liberation Sans', sans-serif">[GeV]</text></g>
<text transform="translate(18.2,396.2) rotate(-90)" font-size="9.3" text-anchor="middle" font-family="'Liberation Sans', sans-serif">Ratio to ATLAS</text>
<text transform="translate(380.4,72.2) rotate(-90) scale(1,1.04)" font-size="9.6" text-anchor="middle" fill="#777" font-family="'Liberation Sans', sans-serif">Rivet 4.1.0, &#8805; 2.6M events</text>
<text transform="translate(380.4,239) rotate(-90) scale(1,1.04)" font-size="9.6" text-anchor="middle" fill="#777" font-family="'Liberation Sans', sans-serif">mcplots.cern.ch [arXiv:2401.10621]</text>
<text x="207.60" y="301.60" font-size="8" text-anchor="middle" fill="#999" font-family="'Liberation Sans', sans-serif" >(ATLAS_2019_I1736531)</text>
<rect x="73.70" y="221.00" width="5.60" height="5.60" fill="#000"/>
<text transform="translate(94.3,227.25) scale(1,1.08)" font-size="9.4" font-family="'Liberation Sans', sans-serif">ATLAS</text>
<polyline points="64.20,237.00 88.60,237.00" fill="none" stroke="#3c9c28" stroke-width="1.1" stroke-dasharray="2,1.6"/>
<rect x="73.90" y="234.40" width="5.20" height="5.20" fill="none" stroke="#3c9c28" stroke-width="1.1"/>
<text transform="translate(94.3,240.45) scale(1,1.08)" font-size="9.4" font-family="'Liberation Sans', sans-serif">Herwig 7.2.1 default</text>
<polyline points="64.20,250.00 88.60,250.00" fill="none" stroke="#0000ff" stroke-width="1.4"/>
<path d="M73.50,252.70L79.50,252.70L76.50,247.30Z" fill="#0000ff"/>
<text transform="translate(94.3,253.45) scale(1,1.08)" font-size="9.4" font-family="'Liberation Sans', sans-serif">Pythia 8.315 default</text>
<polyline points="64.20,262.90 88.60,262.90" fill="none" stroke="#1a9cc8" stroke-width="1.1" stroke-dasharray="3,1.5,1,1.5"/>
<path d="M73.50,259.90L79.50,259.90L76.50,265.90Z" fill="#1a9cc8"/>
<text transform="translate(94.3,266.35) scale(1,1.08)" font-size="9.4" font-family="'Liberation Sans', sans-serif">Pythia 8.315 vincia-default</text>
<polyline points="64.20,276.00 88.60,276.00" fill="none" stroke="#ff0000" stroke-width="1.1" stroke-dasharray="1.2,0.9"/>
<path d="M76.50,272.64L79.02,276.00L76.50,279.36L73.98,276.00Z" fill="#ff0000"/>
<text transform="translate(94.3,279.45) scale(1,1.08)" font-size="9.4" font-family="'Liberation Sans', sans-serif">Sherpa 2.2.9 default</text>
</svg>
</body></html>
